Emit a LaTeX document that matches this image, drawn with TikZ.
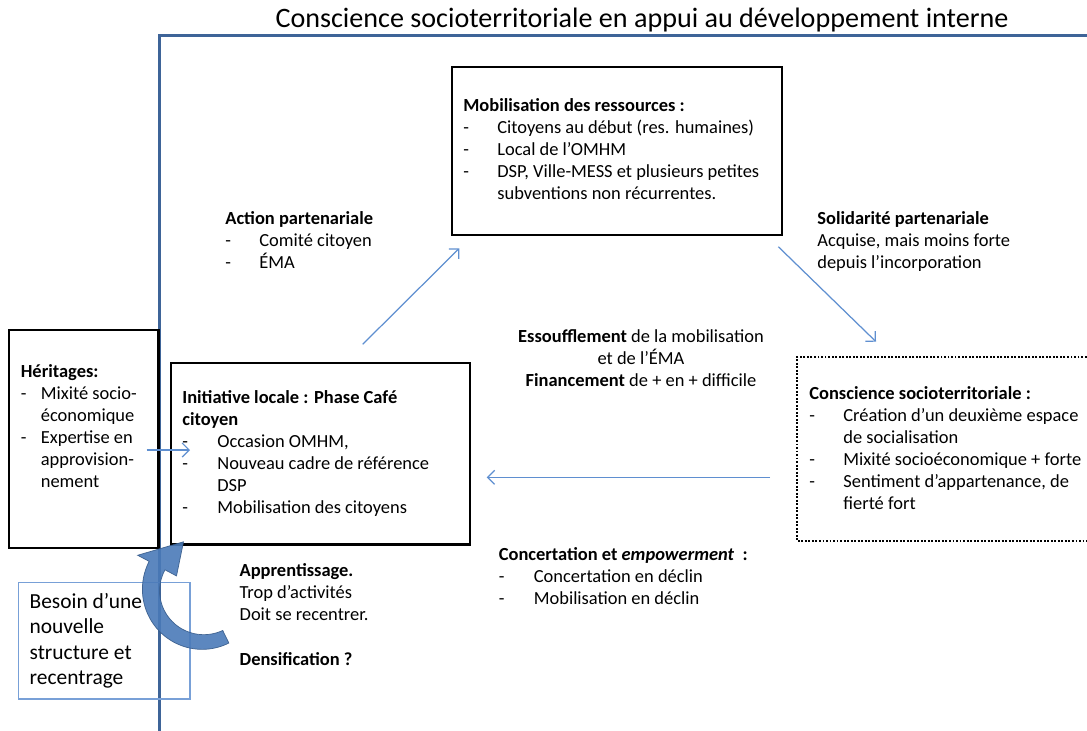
\documentclass[tikz,border=0pt]{standalone}
\usepackage{fontspec}
\setmainfont{Carlito}
\usetikzlibrary{arrows.meta}
\newlength\pxu \setlength\pxu{0.02cm}
\definecolor{framec}{RGB}{62,100,152}
\definecolor{thinarrow}{RGB}{95,143,208}
\definecolor{besoinc}{RGB}{120,160,215}
\definecolor{curvec}{RGB}{74,122,184}
\newcommand{\dl}[2][33]{\makebox[#1\pxu][l]{-}#2}
\newcommand{\ind}[2][33]{\hspace*{#1\pxu}#2}
\newcommand{\fsA}{\fontsize{10.5}{12.6}\selectfont}
\newcommand{\fsB}{\fontsize{12.2}{14.5}\selectfont}
\newcommand{\lines}[1]{\vtop{\halign{##\hfil\cr#1\crcr}}}
\newcommand{\clines}[1]{\vtop{\halign{\hfil##\hfil\cr#1\crcr}}}
\begin{document}
\begin{tikzpicture}[x=0.02cm, y=-0.02cm,
  txt/.style={inner sep=0pt, anchor=base west, font=\fsA, text=black},
  box/.style={draw=black, line width=1.2pt, fill=white, inner sep=0pt},
  thinarr/.style={draw=thinarrow, line width=0.7pt, -{Straight Barb[length=4pt,width=8pt]}}]
\useasboundingbox (0,0) rectangle (1087,730);
% title
\node[inner sep=0pt, anchor=base, font=\fontsize{16}{19}\selectfont] (title) at (642,28) {Conscience socioterritoriale en appui au développement interne};
% frame
\draw[framec, line width=1.3pt] (159.5,731) -- (159.5,35.5) -- (1088,35.5);
% boxes
\node[box, minimum width=330\pxu, minimum height=168.3\pxu] (mob) at (616.7,150.85) {};
\node[box, minimum width=149.2\pxu, minimum height=218.3\pxu] (her) at (83.9,439.15) {};
\node[box, minimum width=299\pxu, minimum height=181.8\pxu] (ini) at (320.5,453.6) {};
\draw[black, line width=1.3pt, dash pattern=on 1.1pt off 0.9pt] (1090,357) -- (797,357) -- (797,541) -- (1090,541);
% texts
\node[txt] (mobt) at (463,111) {\lines{\textbf{Mobilisation des ressources :}\cr
  \dl[34]{Citoyens au début (res. humaines)}\cr
  \dl[34]{Local de l’OMHM}\cr
  \dl[34]{DSP, Ville-MESS et plusieurs petites}\cr
  \ind[34]{subventions non récurrentes.}}};
\node[txt] (actt) at (225,224) {\lines{\textbf{Action partenariale}\cr
  \dl[34]{Comité citoyen}\cr
  \dl[34]{ÉMA}}};
\node[txt] (solt) at (817,224) {\lines{\textbf{Solidarité partenariale}\cr
  Acquise, mais moins forte\cr
  depuis l’incorporation}};
\node[inner sep=0pt, anchor=base, font=\fsA] (esst) at (641,342.7) {\clines{\textbf{Essoufflement} de la mobilisation\cr
  et de l’ÉMA\cr
  \textbf{Financement} de + en + difficile}};
\node[txt] (hert) at (20.5,377) {\lines{\textbf{Héritages:}\cr
  \dl[20]{Mixité socio-}\cr
  \ind[20]{économique}\cr
  \dl[20]{Expertise en}\cr
  \ind[20]{approvision-}\cr
  \ind[20]{nement}}};
\node[txt] (init) at (182,403.3) {\lines{\textbf{Initiative locale : Phase Café}\cr
  \textbf{citoyen}\cr
  \dl[35]{Occasion OMHM,}\cr
  \dl[35]{Nouveau cadre de référence}\cr
  \ind[35]{DSP}\cr
  \dl[35]{Mobilisation des citoyens}}};
\node[txt] (cont) at (809,399) {\lines{\textbf{Conscience socioterritoriale :}\cr
  \dl[34]{Création d’un deuxième espace}\cr
  \ind[34]{de socialisation}\cr
  \dl[34]{Mixité socioéconomique + forte}\cr
  \dl[34]{Sentiment d’appartenance, de}\cr
  \ind[34]{fierté fort}}};
\node[txt] (conct) at (498.5,560.7) {\lines{\textbf{Concertation et \textit{empowerment}\ \ :}\cr
  \dl[35]{Concertation en déclin}\cr
  \dl[35]{Mobilisation en déclin}}};
\node[txt] (appt) at (239.3,576.7) {\lines{\textbf{Apprentissage.}\cr
  Trop d’activités\cr
  Doit se recentrer.\cr
  \cr
  \textbf{Densification ?}}};
% thin arrows
\coordinate (a1s) at (362.7,344.3); \coordinate (a1e) at (459.3,248.3);
\coordinate (a2s) at (778.3,246.7); \coordinate (a2e) at (876,341.7);
\coordinate (a3s) at (770,477.3);   \coordinate (a3e) at (486.7,477.3);
\coordinate (a4s) at (146.7,450);   \coordinate (a4e) at (190,450);
\draw[thinarr] (a1s) -- (a1e);
\draw[thinarr] (a2s) -- (a2e);
\draw[thinarr] (a3s) -- (a3e);
\draw[thinarr] (a4s) -- (a4e);
% besoin box
\node[draw=besoinc, line width=0.8pt, inner sep=0pt, minimum width=171.7\pxu, minimum height=116.7\pxu] (bes) at (104.15,640.65) {};
\node[txt, font=\fsB] (best) at (29.3,608.3) {\lines{Besoin d’une\cr nouvelle\cr structure et\cr recentrage}};
% curved arrow
\fill[curvec, opacity=0.9, draw=curvec!75!black, line width=0.4pt]
  plot[domain=-64:-208, samples=50] ({203+(59+2*(-64-(\x))/144)*cos(\x)}, {590-(59+2*(-64-(\x))/144)*sin(\x)})
  -- ({203+74*cos(-208)},{590-74*sin(-208)})
  -- ({203+52*cos(-248)},{590-52*sin(-248)})
  -- ({203+30*cos(-208)},{590-30*sin(-208)})
  -- plot[domain=-208:-64, samples=50] ({203+(45-2*(-64-(\x))/144)*cos(\x)}, {590-(45-2*(-64-(\x))/144)*sin(\x)})
  -- cycle;
\end{tikzpicture}
\end{document}
